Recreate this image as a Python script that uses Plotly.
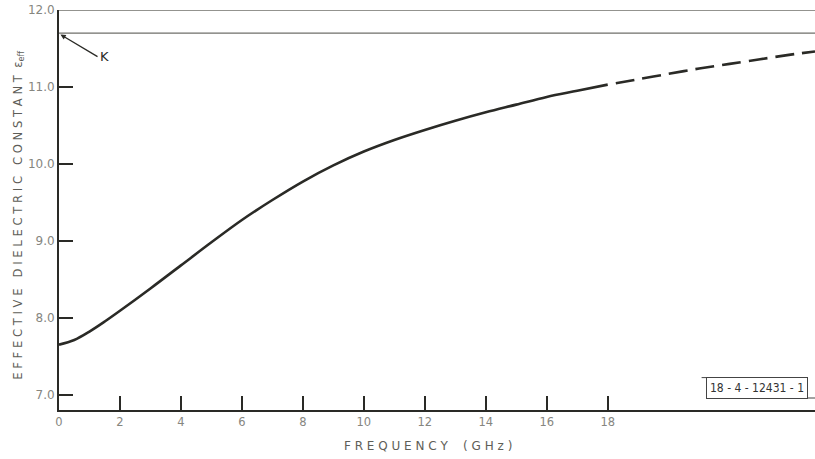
import plotly.graph_objects as go

# ---- data ----
freq_measured = [0, 0.5, 1, 1.5, 2, 3, 4, 5, 6, 7, 8, 9, 10, 11, 12, 13, 14, 15, 16, 17, 18]
eps_measured = [7.65, 7.71, 7.82, 7.95, 8.09, 8.38, 8.68, 8.98, 9.27, 9.53, 9.77, 9.98,
                10.16, 10.31, 10.44, 10.56, 10.67, 10.77, 10.87, 10.95, 11.03]
freq_extrap = [18, 19, 20, 21, 22, 23, 24, 24.8]
eps_extrap = [11.03, 11.10, 11.17, 11.24, 11.30, 11.36, 11.42, 11.46]
K_value = 11.7
top_value = 12.0
x_ticks = [0, 2, 4, 6, 8, 10, 12, 14, 16, 18]
y_ticks = [7.0, 8.0, 9.0, 10.0, 11.0, 12.0]
x_range = [0, 24.8]
y_range = [6.8, 12.0]

ink = "#2a2a26"
grey = "#86867f"
title_grey = "#5e5e58"
font_family = "DejaVu Sans"

fig = go.Figure()
fig.add_trace(go.Scatter(x=freq_measured, y=eps_measured, mode="lines",
                         line=dict(color=ink, width=2.6, shape="spline", smoothing=1.0),
                         hoverinfo="skip", showlegend=False))
fig.add_trace(go.Scatter(x=freq_extrap, y=eps_extrap, mode="lines",
                         line=dict(color=ink, width=2.6, shape="spline", smoothing=0.6,
                                   dash="0px,8px,19px,0px"),
                         hoverinfo="skip", showlegend=False))

# horizontal reference lines (top frame at 12.0, K line)
for yv, w in [(top_value, 1.6), (K_value, 1.4)]:
    fig.add_shape(type="line", xref="x", yref="y", x0=x_range[0], x1=x_range[1],
                  y0=yv, y1=yv, line=dict(color="#6f6f6a", width=w))

# K annotation with arrow
fig.add_annotation(x=0.05, y=K_value - 0.02, xref="x", yref="y", text="K",
                   showarrow=True, arrowhead=2, arrowsize=0.8, arrowwidth=1.3,
                   arrowcolor=ink, ax=37, ay=22, axref="pixel", ayref="pixel",
                   font=dict(family=font_family, size=13, color=ink),
                   xanchor="left")

# Figure ID box
fig.add_annotation(x=0.923, y=0.055, xref="paper", yref="paper", text="18 - 4 - 12431 - 1",
                   xanchor="center", yanchor="middle", showarrow=False,
                   font=dict(family="Liberation Sans Narrow, DejaVu Sans Condensed, DejaVu Sans",
                             size=12, color="#333"),
                   bordercolor="#444", borderwidth=1, borderpad=3, bgcolor="white")
# little tab lines of the ID box
fig.add_shape(type="line", xref="paper", yref="paper", x0=0.850, x1=0.862,
              y0=0.081, y1=0.081, line=dict(color="#444", width=1))
fig.add_shape(type="line", xref="paper", yref="paper", x0=0.985, x1=1.0,
              y0=0.03, y1=0.03, line=dict(color="#444", width=1))

# Axis titles as annotations (placed like the reference)
fig.add_annotation(x=-0.054, y=0.486, xref="paper", yref="paper", textangle=-90,
                   xanchor="center", yanchor="middle",
                   text="E F F E C T I V E   D I E L E C T R I C   C O N S T A N T  ε<sub>eff</sub>",
                   showarrow=False, font=dict(family=font_family, size=11.6, color=title_grey))
fig.add_annotation(x=0.488, y=-0.09, xref="paper", yref="paper", xanchor="center", yanchor="middle",
                   text="F R E Q U E N C Y    ( G H z )",
                   showarrow=False, font=dict(family=font_family, size=12, color=title_grey))

fig.update_layout(
    width=815, height=459,
    margin=dict(l=59, r=0, t=10, b=49),
    paper_bgcolor="white", plot_bgcolor="white",
    font=dict(family=font_family, size=12, color=grey),
    xaxis=dict(range=x_range, tickvals=x_ticks, ticktext=[str(v) for v in x_ticks],
               ticks="inside", ticklen=14, tickwidth=2, tickcolor=ink, automargin=False,
               showline=True, linecolor=ink, linewidth=2, showgrid=False, zeroline=False,
               tickfont=dict(family=font_family, size=11.5, color=grey)),
    yaxis=dict(range=y_range, tickvals=y_ticks, ticktext=[f"{v:.1f}" for v in y_ticks],
               ticks="inside", ticklen=14, tickwidth=2, tickcolor=ink, automargin=False,
               showline=True, linecolor=ink, linewidth=2, showgrid=False, zeroline=False,
               tickfont=dict(family=font_family, size=12, color=grey)),
)

fig.write_html("out.html", config={"displayModeBar": False},
               post_script="document.body.style.margin='0';")
